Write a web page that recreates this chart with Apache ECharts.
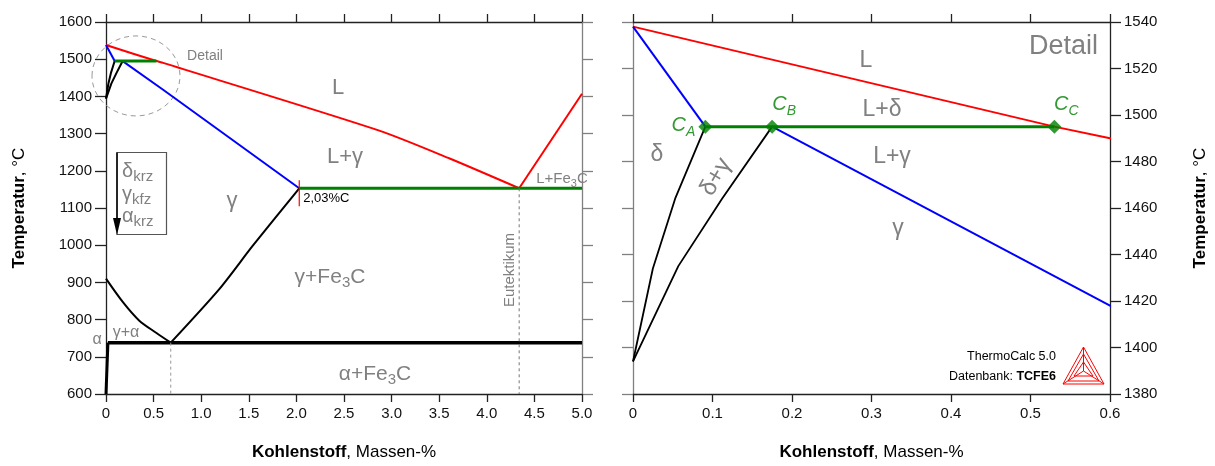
<!DOCTYPE html>
<html>
<head>
<meta charset="utf-8">
<script src="https://cdn.jsdelivr.net/npm/echarts@6/dist/echarts.min.js"></script>
<style>
  html, body { margin: 0; padding: 0; background: #fff; }
  #chart { width: 1215px; height: 466px; }
</style>
</head>
<body>
<div id="chart"></div>
<script>
// Eisen-Kohlenstoff-Diagramm: Übersicht (links) und Detail des peritektischen Bereichs (rechts)

// Phasengrenzen [Kohlenstoff Massen-%, Temperatur °C]
const liquidus      = [[0, 1538], [0.53, 1495], [0.6, 1490], [2.87, 1308], [3.61, 1233], [4.34, 1153]];
const liquidusFe3C  = [[4.34, 1153], [5.0, 1407]];
const deltaLiquidus = [[0, 1538], [0.091, 1495]];
const solidus       = [[0.175, 1495], [0.6, 1418], [2.03, 1153]];
const peritectic    = [[0.091, 1495], [0.53, 1495]];
const eutectic      = [[2.03, 1153], [5.0, 1153]];
const deltaSolvus   = [[0, 1394], [0.025, 1434], [0.053, 1464], [0.091, 1495]];
const gammaDelta    = [[0, 1394], [0.057, 1435], [0.112, 1464], [0.175, 1495]];
const a3Line        = [[0, 910], [0.18, 846], [0.35, 797], [0.53, 764], [0.68, 738]];
const acmLine       = [[0.68, 738], [1.19, 882], [1.54, 998], [2.03, 1153]];
const eutectoid     = [[0.02, 738], [5.0, 738]];
const alphaSolvus   = [[0, 600], [0.02, 738]];
const eutectoidDrop = [[0.68, 738], [0.68, 600]];
const eutecticDrop  = [[4.34, 1153], [4.34, 600]];
// Kennpunkte der Peritektikalen
const peritecticPoints = [
  { name: 'A', value: [0.091, 1495] },
  { name: 'B', value: [0.175, 1495] },
  { name: 'C', value: [0.53, 1495] }
];

// Achsenbereiche und Teilungen
const leftX  = { min: 0, max: 5.0, interval: 0.5 };
const leftY  = { min: 600, max: 1600, interval: 100 };
const rightX = { min: 0, max: 0.6, interval: 0.1 };
const rightY = { min: 1380, max: 1540, interval: 20 };

const FONT = "'Liberation Sans', Arial, sans-serif";
const GRAY = '#808080';
const RED = '#ff0000', BLUE = '#0000ff', GREEN = '#008000', BLACK = '#000000';

const chart = echarts.init(document.getElementById('chart'), null, { renderer: 'canvas' });

const axisTitleRich = {
  b: { fontFamily: FONT, fontSize: 17, fontWeight: 'bold', color: '#000' },
  n: { fontFamily: FONT, fontSize: 17, color: '#000' }
};

function xAxisDef(grid, range, pos, labelled, fmt) {
  return {
    type: 'value', gridIndex: grid, position: pos, min: range.min, max: range.max, interval: range.interval,
    axisLine: { onZero: false, lineStyle: { color: '#222', width: 1.3 } },
    axisTick: { show: true, inside: false, length: 8, lineStyle: { color: '#222', width: 1.3 } },
    axisLabel: labelled ? { show: true, margin: 12, fontFamily: FONT, fontSize: 15, color: '#111', formatter: fmt } : { show: false },
    splitLine: { show: false },
    name: labelled ? '{b|Kohlenstoff}{n|, Massen-%}' : '',
    nameLocation: 'middle', nameGap: 50,
    nameTextStyle: { rich: axisTitleRich }
  };
}
function yAxisDef(grid, range, pos, labelled, color) {
  return {
    type: 'value', gridIndex: grid, position: pos, min: range.min, max: range.max, interval: range.interval,
    axisLine: { onZero: false, lineStyle: { color: color, width: 1.3 } },
    axisTick: { show: true, inside: false, length: 11, lineStyle: { color: color, width: 1.3 } },
    axisLabel: labelled ? { show: true, margin: 14, fontFamily: FONT, fontSize: 15, color: '#111', formatter: v => String(v) } : { show: false },
    splitLine: { show: false },
    name: labelled ? '{b|Temperatur}{n|, °C}' : '',
    nameLocation: 'middle', nameRotate: 90, nameGap: pos === 'left' ? 78 : 82,
    nameTextStyle: { rich: axisTitleRich }
  };
}

const xFmt = v => (v === 0 ? '0' : v.toFixed(1));

function line(name, data, color, width, xi, yi, opts) {
  opts = opts || {};
  return {
    name, type: 'line', data, xAxisIndex: xi, yAxisIndex: yi,
    showSymbol: false, symbol: 'none', silent: true, clip: true, z: 3,
    smooth: opts.smooth || false,
    lineStyle: { color, width, type: opts.dashed ? [3, 3] : 'solid' }
  };
}

const series = [
  // Übersicht
  line('liquidus', liquidus, RED, 2, 0, 0, { smooth: 0.25 }),
  line('liquidusFe3C', liquidusFe3C, RED, 2, 0, 0),
  line('deltaLiquidus', deltaLiquidus, BLUE, 2, 0, 0),
  line('solidus', solidus, BLUE, 2, 0, 0),
  line('deltaSolvus', deltaSolvus, BLACK, 2, 0, 0),
  line('gammaDelta', gammaDelta, BLACK, 2, 0, 0),
  line('peritectic', peritectic, GREEN, 3, 0, 0),
  line('eutectic', eutectic, GREEN, 3, 0, 0),
  line('a3', a3Line, BLACK, 2, 0, 0, { smooth: 0.3 }),
  line('acm', acmLine, BLACK, 2, 0, 0, { smooth: 0.25 }),
  line('eutectoid', eutectoid, BLACK, 3.5, 0, 0),
  line('alphaSolvus', alphaSolvus, BLACK, 3, 0, 0),
  line('eutectoidDrop', eutectoidDrop, '#999', 1, 0, 0, { dashed: true }),
  line('eutecticDrop', eutecticDrop, '#777', 1, 0, 0, { dashed: true }),
  // Detail
  line('liquidusD', liquidus, RED, 2, 2, 2),
  line('deltaLiquidusD', deltaLiquidus, BLUE, 2, 2, 2),
  line('solidusD', solidus, BLUE, 2, 2, 2),
  line('deltaSolvusD', deltaSolvus, BLACK, 1.8, 2, 2),
  line('gammaDeltaD', gammaDelta, BLACK, 1.8, 2, 2),
  line('peritecticD', peritectic, GREEN, 3, 2, 2),
  {
    name: 'points', type: 'scatter', xAxisIndex: 2, yAxisIndex: 2, silent: true, z: 5,
    symbol: 'diamond', symbolSize: 14, itemStyle: { color: GREEN },
    data: peritecticPoints.map((p, i) => ({
      name: p.name, value: p.value,
      label: i === 0 ? { position: 'left', distance: 3, offset: [0, -1] } : { position: 'top', distance: 2, offset: [12, 0] }
    })),
    label: {
      show: true, formatter: p => '{c|C}{s|' + p.name + '}',
      rich: {
        c: { fontFamily: FONT, fontStyle: 'italic', fontSize: 20, color: GREEN },
        s: { fontFamily: FONT, fontStyle: 'italic', fontSize: 14, color: GREEN, padding: [12, 0, 0, 0] }
      }
    }
  }
];

const sub = {
  a: { fontFamily: FONT, fontSize: 21, fill: GRAY, color: GRAY },
  s: { fontFamily: FONT, fontSize: 15, fill: GRAY, color: GRAY, padding: [12, 0, 0, 0] }
};
const subSmall = {
  a: { fontFamily: FONT, fontSize: 15, fill: GRAY, color: GRAY },
  s: { fontFamily: FONT, fontSize: 11, fill: GRAY, color: GRAY, padding: [9, 0, 0, 0] }
};
const legendRich = {
  a: { fontFamily: FONT, fontSize: 20, fill: GRAY, color: GRAY },
  s: { fontFamily: FONT, fontSize: 15, fill: GRAY, color: GRAY, padding: [12, 0, 0, 0] }
};

function label(x, y, text, size) {
  return {
    type: 'text', x, y, z: 10, silent: true,
    style: { text, fill: GRAY, fontFamily: FONT, fontSize: size, align: 'center', verticalAlign: 'middle' }
  };
}
function richLabel(x, y, text, rich, align) {
  return {
    type: 'text', x, y, z: 10, silent: true,
    style: { text, rich, fill: GRAY, fontFamily: FONT, align: align || 'center', verticalAlign: 'middle' }
  };
}

chart.setOption({
  animation: false,
  backgroundColor: '#fff',
  grid: [
    { left: 106, top: 22, width: 476, height: 373 },
    { left: 633, top: 22, width: 477, height: 373 }
  ],
  xAxis: [
    xAxisDef(0, leftX, 'bottom', true, xFmt),
    xAxisDef(0, leftX, 'top', false),
    xAxisDef(1, rightX, 'bottom', true, xFmt),
    xAxisDef(1, rightX, 'top', false)
  ],
  yAxis: [
    yAxisDef(0, leftY, 'left', true, '#222'),
    yAxisDef(0, leftY, 'right', false, '#808080'),
    yAxisDef(1, rightY, 'right', true, '#222'),
    yAxisDef(1, rightY, 'left', false, '#808080')
  ],
  series
});

// Markierungen, die an Datenpunkten hängen
const detailCenter = chart.convertToPixel({ gridIndex: 0 }, [0.315, 1455]);
const point203 = chart.convertToPixel({ gridIndex: 0 }, [2.03, 1153]);

const graphic = [
  // Ausschnittskreis
  { type: 'ellipse', silent: true, z: 2, shape: { cx: detailCenter[0], cy: detailCenter[1], rx: 44, ry: 40 },
    style: { fill: 'none', stroke: '#999', lineWidth: 1, lineDash: [5, 4] } },
  label(205, 56, 'Detail', 14),
  // Markierung 2,03 %C
  { type: 'line', silent: true, z: 6, shape: { x1: point203[0], y1: point203[1] - 8, x2: point203[0], y2: point203[1] + 18 },
    style: { stroke: RED, lineWidth: 1.2 } },
  { type: 'text', x: point203[0] + 4, y: point203[1] + 10, z: 10, silent: true,
    style: { text: '2,03%C', fill: '#000', fontFamily: FONT, fontSize: 13, align: 'left', verticalAlign: 'middle' } },

  // Kristallstruktur-Legende
  { type: 'rect', silent: true, z: 8, shape: { x: 117, y: 152.5, width: 49.5, height: 82 },
    style: { fill: '#fff', stroke: '#555', lineWidth: 1.2 } },
  { type: 'line', silent: true, z: 9, shape: { x1: 117, y1: 152.5, x2: 117, y2: 222 }, style: { stroke: '#000', lineWidth: 1.5 } },
  { type: 'polygon', silent: true, z: 9, shape: { points: [[113, 218], [121, 218], [117, 235]] }, style: { fill: '#000' } },
  richLabel(122, 171, '{a|δ}{s|krz}', legendRich, 'left'),
  richLabel(122, 194, '{a|γ}{s|kfz}', legendRich, 'left'),
  richLabel(122, 216, '{a|α}{s|krz}', legendRich, 'left'),

  // Phasenfelder Übersicht
  label(338, 88, 'L', 22),
  label(345, 157, 'L+γ', 22),
  label(232, 201, 'γ', 22),
  richLabel(330, 277, '{a|γ+Fe}{s|3}{a|C}', sub),
  richLabel(375, 374, '{a|α+Fe}{s|3}{a|C}', sub),
  label(126, 333, 'γ+α', 16),
  label(97, 340, 'α', 16),
  richLabel(562, 179, '{a|L+Fe}{s|3}{a|C}', subSmall),
  { type: 'text', x: 510, y: 270, rotation: Math.PI / 2, z: 10, silent: true,
    style: { text: 'Eutektikum', fill: GRAY, fontFamily: FONT, fontSize: 15, align: 'center', verticalAlign: 'middle' } },

  // Phasenfelder Detail
  { type: 'text', x: 1098, y: 47, z: 10, silent: true,
    style: { text: 'Detail', fill: GRAY, fontFamily: FONT, fontSize: 27, align: 'right', verticalAlign: 'middle' } },
  label(866, 61, 'L', 23),
  label(882, 110, 'L+δ', 23),
  label(892, 157, 'L+γ', 23),
  label(657, 155, 'δ', 23),
  { type: 'text', x: 716, y: 177, rotation: Math.PI * 60 / 180, z: 10, silent: true,
    style: { text: 'δ+γ', fill: GRAY, fontFamily: FONT, fontSize: 24, align: 'center', verticalAlign: 'middle' } },
  label(898, 229, 'γ', 23),

  // Programm / Datenbank
  { type: 'text', x: 1056, y: 357, z: 10, silent: true,
    style: { text: 'ThermoCalc 5.0', fill: '#000', fontFamily: FONT, fontSize: 12.5, align: 'right', verticalAlign: 'middle' } },
  { type: 'text', x: 1056, y: 377, z: 10, silent: true,
    style: { text: '{n|Datenbank: }{b|TCFE6}', align: 'right', verticalAlign: 'middle',
      rich: { n: { fontFamily: FONT, fontSize: 12.5, fill: '#000', color: '#000' },
              b: { fontFamily: FONT, fontSize: 12.5, fontWeight: 'bold', fill: '#000', color: '#000' } } } },
  // Logo
  { type: 'polygon', silent: true, z: 10, shape: { points: [[1063, 384], [1083.5, 347], [1104, 384]] },
    style: { fill: 'none', stroke: RED, lineWidth: 1 } },
  { type: 'polygon', silent: true, z: 10, shape: { points: [[1068, 381], [1083.5, 354], [1099, 381]] },
    style: { fill: 'none', stroke: RED, lineWidth: 1 } },
  { type: 'polyline', silent: true, z: 10, shape: { points: [[1083.5, 347], [1083.5, 371], [1063, 384]] },
    style: { fill: 'none', stroke: RED, lineWidth: 1 } },
  { type: 'polyline', silent: true, z: 10, shape: { points: [[1083.5, 371], [1104, 384]] },
    style: { fill: 'none', stroke: RED, lineWidth: 1 } },
  { type: 'polyline', silent: true, z: 10, shape: { points: [[1074, 376], [1083.5, 362], [1093, 376], [1074, 376]] },
    style: { fill: 'none', stroke: RED, lineWidth: 1 } }
];

chart.setOption({ graphic });
</script>
</body>
</html>
